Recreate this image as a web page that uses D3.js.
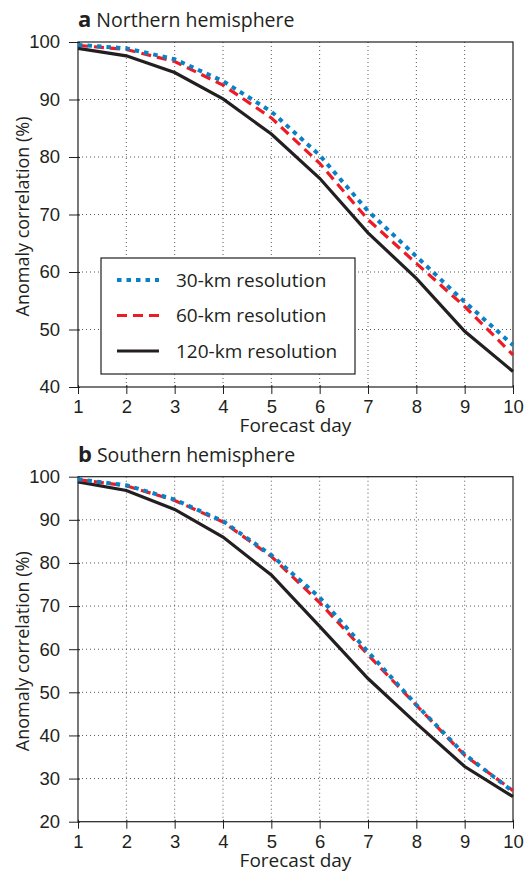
<!DOCTYPE html>
<html>
<head>
<meta charset="utf-8">
<script src="https://cdn.jsdelivr.net/npm/d3@7"></script>
<style>
  body { margin: 0; background: #fff; }
  svg { display: block; font-family: "Open Sans", "Noto Sans", sans-serif; }
  .grid line { stroke: #444; stroke-width: 0.9; stroke-dasharray: 1 3; }
  .axis text { font-size: 18.5px; fill: #231f20; }
  .axis path { display: none; }
  .axis line { stroke: #231f20; }
</style>
</head>
<body>
<svg width="525" height="872"></svg>
<script>
const days = [1, 2, 3, 4, 5, 6, 7, 8, 9, 10];

// Northern hemisphere
const nh30 = [99.5, 98.9, 97.0, 93.2, 87.9, 80.3, 70.6, 62.7, 54.8, 47.3];
const nh60 = [99.4, 98.7, 96.6, 92.5, 86.8, 78.9, 69.1, 61.5, 54.0, 45.6];
const nh120 = [98.9, 97.6, 94.7, 90.1, 84.0, 76.3, 66.8, 58.9, 49.7, 42.7];

// Southern hemisphere
const sh30 = [99.4, 98.0, 94.7, 89.7, 81.8, 72.0, 59.4, 47.1, 35.6, 27.0];
const sh60 = [99.3, 97.9, 94.5, 89.5, 81.5, 70.8, 58.7, 47.0, 35.4, 27.2];
const sh120 = [98.8, 96.8, 92.4, 86.0, 77.2, 65.3, 53.2, 42.8, 32.8, 25.8];

const nhTicks = [40, 50, 60, 70, 80, 90, 100];
const shTicks = [20, 30, 40, 50, 60, 70, 80, 90, 100];

const seriesNames = ["30-km resolution", "60-km resolution", "120-km resolution"];
const colors = ["#0a80c5", "#ed1c24", "#231f20"];
const dashes = ["4.5 5", "10 6", null];
const widths = [4, 3.2, 3.2];

const svg = d3.select("svg");
const left = 78, width = 435, height = 345;

function panel(top, letter, title, yDomain, yTicks, series, withLegend) {
    const x = d3.scaleLinear().domain([1, 10]).range([0, width]);
    const y = d3.scaleLinear().domain(yDomain).range([height, 0]);

    const g = svg.append("g").attr("transform", `translate(${left},${top})`);

    // grid
    const grid = g.append("g").attr("class", "grid");
    grid.selectAll(".gx").data(days.slice(1, -1)).enter().append("line")
        .attr("x1", d => x(d)).attr("x2", d => x(d))
        .attr("y1", 0).attr("y2", height);
    grid.selectAll(".gy").data(yTicks.slice(1, -1)).enter().append("line")
        .attr("x1", 0).attr("x2", width)
        .attr("y1", d => y(d)).attr("y2", d => y(d));

    // axes
    g.append("g").attr("class", "axis")
        .attr("transform", `translate(0,${height})`)
        .call(d3.axisBottom(x).tickValues(days).tickSize(7).tickPadding(6).tickFormat(d3.format("d")))
        .call(a => a.selectAll("line").attr("y1", -2));
    g.append("g").attr("class", "axis")
        .call(d3.axisLeft(y).tickValues(yTicks).tickSize(9).tickPadding(9))
        .call(a => a.selectAll("line").attr("x1", 2));

    // frame
    g.append("rect").attr("width", width).attr("height", height)
        .attr("fill", "none").attr("stroke", "#231f20").attr("stroke-width", 1.2);

    const line = d3.line().x((d, i) => x(days[i])).y(d => y(d));
    // black first, then red, then blue on top
    [2, 1, 0].forEach(k => {
        g.append("path").datum(series[k])
            .attr("d", line)
            .attr("fill", "none")
            .attr("stroke", colors[k])
            .attr("stroke-width", widths[k])
            .attr("stroke-dasharray", dashes[k]);
    });

    // title
    const t = g.append("text").attr("x", 0).attr("y", -15)
        .attr("fill", "#231f20").style("font-size", "19.5px");
    t.append("tspan").attr("font-weight", "bold").style("font-size", "22px").text(letter);
    t.append("tspan").attr("dx", 5).text(title);

    // axis labels
    g.append("text")
        .attr("x", width / 2).attr("y", height + 45)
        .attr("text-anchor", "middle").attr("fill", "#231f20")
        .style("font-size", "19px").text("Forecast day");
    g.append("text")
        .attr("transform", `translate(${-49},${height / 2 + 2}) rotate(-90)`)
        .attr("text-anchor", "middle").attr("fill", "#231f20")
        .style("font-size", "18px").text("Anomaly correlation (%)");

    if (withLegend) {
        const lg = g.append("g").attr("transform", "translate(23,216)");
        lg.append("rect").attr("width", 254).attr("height", 116)
            .attr("fill", "#fff").attr("stroke", "#231f20").attr("stroke-width", 1.2);
        seriesNames.forEach((name, k) => {
            const yy = 22 + k * 35.5;
            lg.append("line")
                .attr("x1", 16).attr("x2", 58).attr("y1", yy).attr("y2", yy)
                .attr("stroke", colors[k]).attr("stroke-width", widths[k])
                .attr("stroke-dasharray", dashes[k]);
            lg.append("text").attr("x", 75).attr("y", yy).attr("dy", "0.35em")
                .attr("fill", "#231f20").style("font-size", "19px").text(name);
        });
    }
}

panel(42, "a", "Northern hemisphere", [40, 100], nhTicks, [nh30, nh60, nh120], true);
panel(476.7, "b", "Southern hemisphere", [20, 100], shTicks, [sh30, sh60, sh120], false);
</script>
</body>
</html>
